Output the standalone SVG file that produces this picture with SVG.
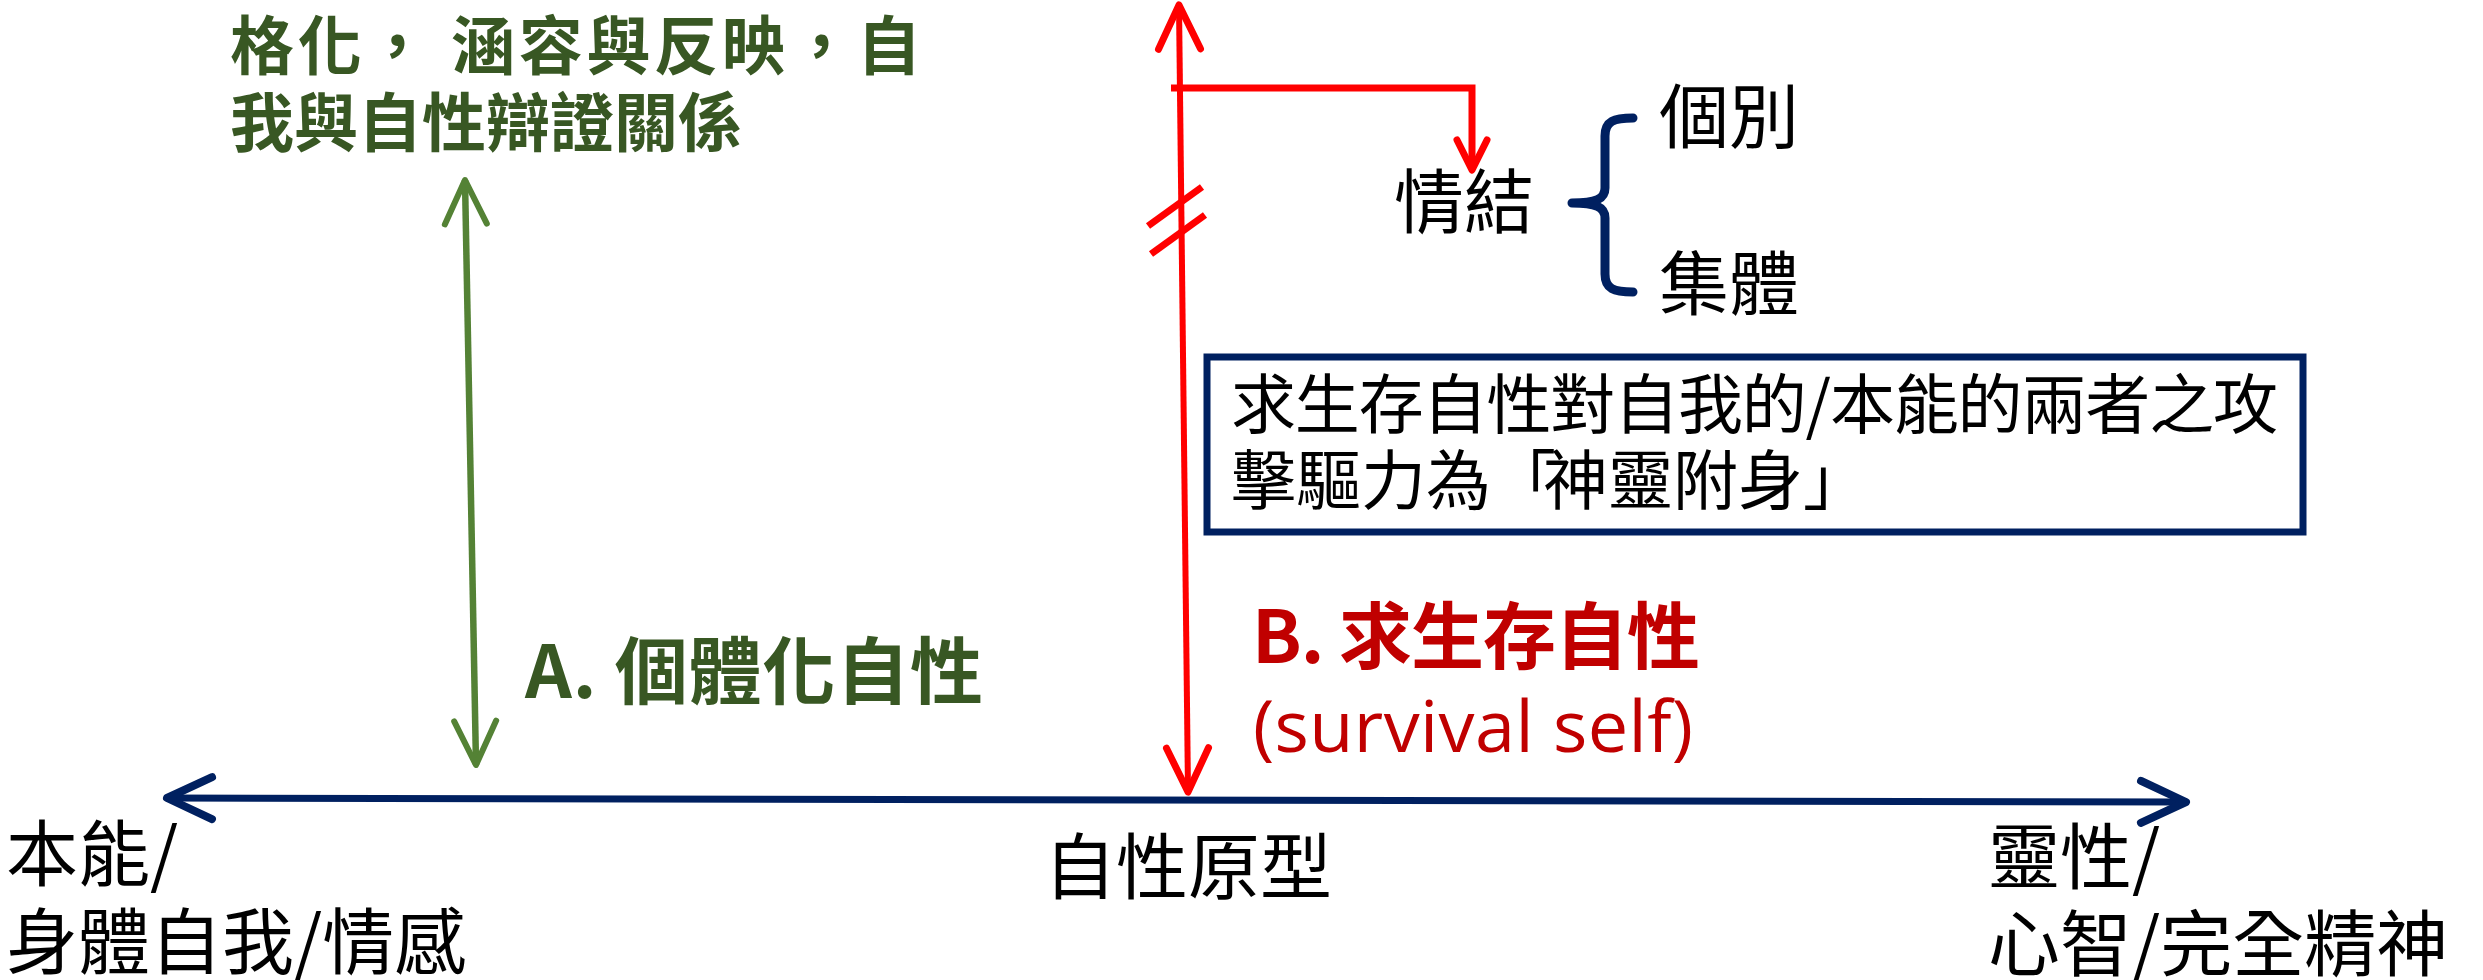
<svg xmlns="http://www.w3.org/2000/svg" width="2483" height="980" viewBox="0 0 2483 980">
<style>
.cjk{font-family:"Noto Sans CJK TC","Noto Sans CJK SC",sans-serif}
.lat{font-family:"Open Sans","Noto Sans",sans-serif}
.blk{fill:#000000}
.gr{fill:#385723;font-weight:bold}
.rd{fill:#C00000}
.ln{fill:none;stroke-linecap:round;stroke-linejoin:round}
</style>
<defs>
<marker id="navyHead" markerUnits="userSpaceOnUse" orient="auto-start-reverse" overflow="visible" markerWidth="1" markerHeight="1" refX="0" refY="0">
<path d="M-45,-21 L0,0 L-45,21" fill="none" stroke="#002060" stroke-width="8" stroke-linecap="round" stroke-linejoin="round"/>
</marker>
<marker id="greenHead" markerUnits="userSpaceOnUse" orient="auto-start-reverse" overflow="visible" markerWidth="1" markerHeight="1" refX="0" refY="0">
<path d="M-44,-21 L0,0 L-44,21" fill="none" stroke="#548235" stroke-width="6" stroke-linecap="round" stroke-linejoin="round"/>
</marker>
<marker id="redHead" markerUnits="userSpaceOnUse" orient="auto-start-reverse" overflow="visible" markerWidth="1" markerHeight="1" refX="0" refY="0">
<path d="M-44,-21 L0,0 L-44,21" fill="none" stroke="#FF0000" stroke-width="7" stroke-linecap="round" stroke-linejoin="round"/>
</marker>
<marker id="redSmall" markerUnits="userSpaceOnUse" orient="auto" overflow="visible" markerWidth="1" markerHeight="1" refX="0" refY="0">
<path d="M-30,-15 L0,0 L-30,15" fill="none" stroke="#FF0000" stroke-width="7" stroke-linecap="round" stroke-linejoin="round"/>
</marker>
</defs>
<rect width="2483" height="980" fill="#FFFFFF"/>

<g id="connectors">
<line id="axis" x1="167" y1="798" x2="2186" y2="802" stroke="#002060" stroke-width="7" marker-start="url(#navyHead)" marker-end="url(#navyHead)"/>
<line id="greenArrow" x1="465" y1="180" x2="476" y2="765" stroke="#548235" stroke-width="6.5" marker-start="url(#greenHead)" marker-end="url(#greenHead)"/>
<line id="redArrow" x1="1179" y1="5" x2="1188" y2="792" stroke="#FF0000" stroke-width="6" marker-start="url(#redHead)" marker-end="url(#redHead)"/>
<polyline id="redBranch" points="1171,88 1472,88 1472,170" fill="none" stroke="#FF0000" stroke-width="7" marker-end="url(#redSmall)"/>
<line x1="1148" y1="226" x2="1202" y2="187" stroke="#FF0000" stroke-width="7"/>
<line x1="1151" y1="254" x2="1205" y2="215" stroke="#FF0000" stroke-width="7"/>
<path id="brace" class="ln" d="M1633,118 C1614,118 1605,121 1605,136 L1605,188 C1605,199 1596,203 1572,203 C1596,203 1605,207 1605,218 L1605,274 C1605,289 1614,292 1633,292" stroke="#002060" stroke-width="9"/>
</g>

<g id="topGreen">
<text class="cjk gr" x="230" y="69" font-size="64" textLength="691" lengthAdjust="spacing">格化， 涵容與反映，自</text>
<text class="cjk gr" x="230" y="146" font-size="64">我與自性辯證關係</text>
</g>

<g id="nodeA">
<text class="cjk gr" x="525" y="698" font-size="73" textLength="458" lengthAdjust="spacing">A. 個體化自性</text>
</g>

<g id="nodeB">
<text class="cjk rd" x="1252" y="663" font-size="73" font-weight="bold" textLength="448" lengthAdjust="spacing">B. 求生存自性</text>
<text class="lat rd" x="1253" y="752" font-size="72" textLength="440" lengthAdjust="spacing">(survival self)</text>
</g>

<g id="complex">
<text class="cjk blk" x="1394" y="228" font-size="70">情結</text>
</g>
<g id="individual">
<text class="cjk blk" x="1659" y="143" font-size="70">個別</text>
</g>
<g id="collective">
<text class="cjk blk" x="1659" y="310" font-size="70">集體</text>
</g>

<g id="noteBox">
<rect x="1207" y="357" width="1096" height="175" fill="#FFFFFF" stroke="#002060" stroke-width="7"/>
<text class="cjk blk" x="1231" y="428" font-size="65" textLength="1047" lengthAdjust="spacing">求生存自性對自我的/本能的兩者之攻</text>
<text class="cjk blk" x="1231" y="504" font-size="65">擊驅力為「<tspan x="1543">神靈附身」</tspan></text>
</g>

<g id="leftLabel">
<text class="cjk blk" x="6" y="880" font-size="72">本能/</text>
<text class="cjk blk" x="6" y="968" font-size="72">身體自我/情感</text>
</g>

<g id="centerLabel">
<text class="cjk blk" x="1044" y="893" font-size="72">自性原型</text>
</g>

<g id="rightLabel">
<text class="cjk blk" x="1988" y="883" font-size="72">靈性/</text>
<text class="cjk blk" x="1988" y="970" font-size="72">心智/完全精神</text>
</g>
</svg>
